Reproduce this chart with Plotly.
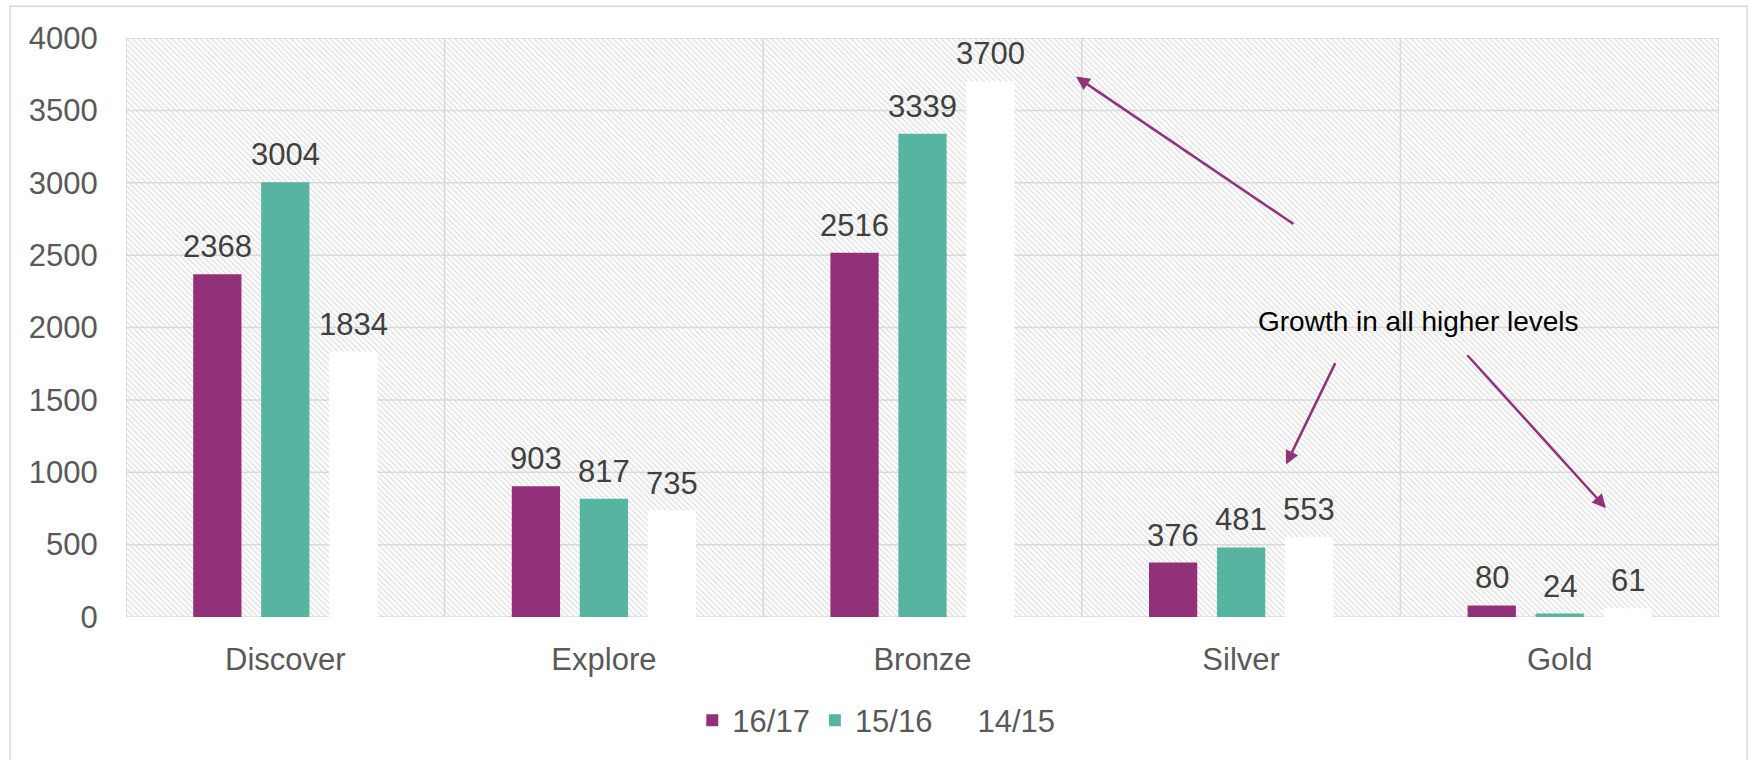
import plotly.graph_objects as go

categories = ["Discover", "Explore", "Bronze", "Silver", "Gold"]
series_names = ["16/17", "15/16", "14/15"]
values_1617 = [2368, 903, 2516, 376, 80]
values_1516 = [3004, 817, 3339, 481, 24]
values_1415 = [1834, 735, 3700, 553, 61]
y_ticks = [0, 500, 1000, 1500, 2000, 2500, 3000, 3500, 4000]
note_text = "Growth in all higher levels"

series_values = [values_1617, values_1516, values_1415]
colors = ["#92317A", "#56B4A1", "#FFFFFF"]

W, H = 1750, 760
L, R, T, B = 126, 31, 38, 137
plot_w = W - L - R
plot_h = H - T - B
YMAX = 4000
GRID = "#D9D9D9"
BARGAP = 0.36
BARGROUPGAP = 0.29
FONT = "Liberation Sans, Arial, sans-serif"

fig = go.Figure()

# hatched plot-area background (main subplot)
fig.add_trace(go.Bar(
    x=[len(categories) / 2], y=[YMAX], width=[len(categories)],
    xaxis="x", yaxis="y",
    marker=dict(color="white", line=dict(width=0),
                pattern=dict(shape="\\", fgcolor="#ADADAD", bgcolor="white",
                             size=4, solidity=0.28)),
    showlegend=False, hoverinfo="skip",
))

# gridlines drawn above hatch but below bars
gx, gy = [], []
for t in y_ticks:
    gx += [0, len(categories), None]
    gy += [t, t, None]
for k in range(len(categories) + 1):
    gx += [k, k, None]
    gy += [0, YMAX, None]
fig.add_trace(go.Scatter(x=gx, y=gy, mode="lines", xaxis="x", yaxis="y",
                         line=dict(color=GRID, width=1.5), cliponaxis=False,
                         showlegend=False, hoverinfo="skip"))

# data bars on overlay axes
for name, vals, col in zip(series_names, series_values, colors):
    fig.add_trace(go.Bar(
        x=categories, y=vals, name=name, xaxis="x2", yaxis="y2",
        marker=dict(color=col, line=dict(width=0)),
    ))

annotations = []
slot = (1 - BARGAP) / len(series_names)
for i, vals in enumerate(series_values):
    off = (i - (len(series_names) - 1) / 2) * slot
    for j, v in enumerate(vals):
        annotations.append(dict(
            x=j + off, y=v, xref="x2", yref="y2", text=str(v), showarrow=False,
            yanchor="bottom", yshift=8,
            font=dict(family=FONT, size=31, color="#404040"),
        ))


def px_to_data(px, py):
    return ((px - L) / plot_w * len(categories) - 0.5, (T + plot_h - py) / plot_h * YMAX)


arrow_col = "#92317A"
arrows = [((1076, 77), (1295, 227)), ((1286, 469), (1336, 365)), ((1606, 513), (1466, 357))]
for tip, tail in arrows:
    tx, ty = px_to_data(*tip)
    ax, ay = px_to_data(*tail)
    annotations.append(dict(
        x=tx, y=ty, xref="x2", yref="y2", ax=ax, ay=ay, axref="x2", ayref="y2",
        text="", showarrow=True, arrowhead=2, arrowsize=1.1, arrowwidth=2.5,
        arrowcolor=arrow_col,
    ))

nx, ny = px_to_data(1418, 324)
annotations.append(dict(x=nx, y=ny, xref="x2", yref="y2", text=note_text,
                        showarrow=False,
                        font=dict(family=FONT, size=28, color="#000000")))

fig.update_layout(
    width=W, height=H,
    margin=dict(l=L, r=R, t=T, b=B, pad=0),
    paper_bgcolor="white", plot_bgcolor="white",
    font=dict(family=FONT, size=31, color="#595959"),
    barmode="group", bargap=BARGAP, bargroupgap=BARGROUPGAP,
    xaxis=dict(range=[0, len(categories)], visible=False, fixedrange=True),
    yaxis=dict(range=[0, YMAX], tickvals=y_ticks, showgrid=False, zeroline=False,
               showline=False, ticks="outside", ticklen=21, tickcolor="rgba(0,0,0,0)",
               tickfont=dict(size=31, color="#595959")),
    xaxis2=dict(overlaying="x", anchor="y2", side="bottom", range=[-0.5, len(categories) - 0.5],
                showgrid=False, zeroline=False, showline=False, ticks="outside", ticklen=15,
                tickcolor="rgba(0,0,0,0)", tickfont=dict(size=31, color="#595959")),
    yaxis2=dict(overlaying="y", anchor="x2", range=[0, YMAX], visible=False),
    legend=dict(orientation="h", x=0.471, xanchor="center", y=-0.179, yanchor="middle",
                font=dict(size=31, color="#595959"), bgcolor="rgba(0,0,0,0)",
                itemclick=False, itemdoubleclick=False),
    annotations=annotations,
    shapes=[dict(type="rect", xref="paper", yref="paper",
                 x0=(10 - L) / plot_w, x1=(1747 - L) / plot_w,
                 y0=(T + plot_h - 780) / plot_h, y1=(T + plot_h - 6) / plot_h,
                 line=dict(color=GRID, width=1.5), fillcolor="rgba(0,0,0,0)", layer="below")],
)

fig.write_html("out.html", config={"displayModeBar": False},
               post_script="document.body.style.margin='0';")
